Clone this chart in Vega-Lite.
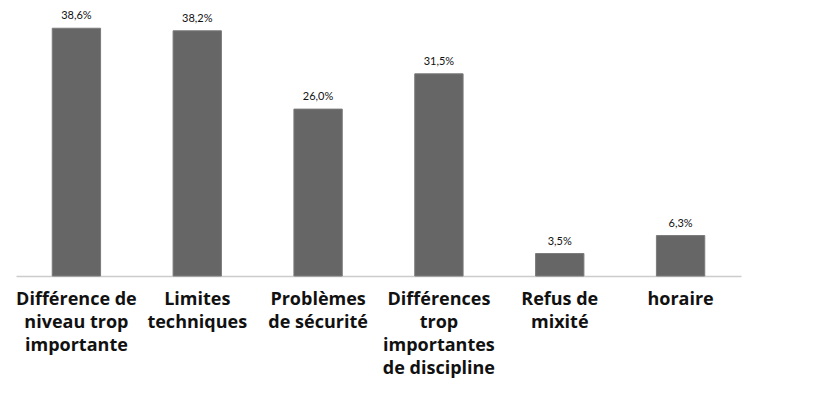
{
  "$schema": "https://vega.github.io/schema/vega-lite/v6.json",
  "autosize": "none",
  "width": 725,
  "height": 276,
  "padding": {"left": 16, "top": 0, "right": 76, "bottom": 118},
  "background": "white",
  "config": {
    "view": {"stroke": null},
    "locale": {"number": {"decimal": ",", "thousands": " ", "grouping": [3], "currency": ["", " €"]}}
  },
  "data": {
    "values": [
      {"raison": "Différence de niveau trop importante", "part": 0.386},
      {"raison": "Limites techniques", "part": 0.382},
      {"raison": "Problèmes de sécurité", "part": 0.260},
      {"raison": "Différences trop importantes de discipline", "part": 0.315},
      {"raison": "Refus de mixité", "part": 0.035},
      {"raison": "horaire", "part": 0.063}
    ]
  },
  "encoding": {
    "x": {
      "field": "raison",
      "type": "nominal",
      "sort": null,
      "scale": {"paddingInner": 0.6, "paddingOuter": 0.3},
      "axis": {
        "title": null,
        "labelAngle": 0,
        "ticks": false,
        "domainColor": "#cccccc",
        "domainWidth": 1.5,
        "labelFont": "Open Sans",
        "labelFontWeight": "bold",
        "labelFontSize": 18,
        "labelColor": "#111111",
        "labelPadding": 14,
        "labelLineHeight": 23,
        "labelLimit": 0,
        "labelExpr": "datum.value == 'Différence de niveau trop importante' ? ['Différence de', 'niveau trop', 'importante'] : datum.value == 'Limites techniques' ? ['Limites', 'techniques'] : datum.value == 'Problèmes de sécurité' ? ['Problèmes', 'de sécurité'] : datum.value == 'Différences trop importantes de discipline' ? ['Différences', 'trop', 'importantes', 'de discipline'] : datum.value == 'Refus de mixité' ? ['Refus de', 'mixité'] : datum.value"
      }
    },
    "y": {
      "field": "part",
      "type": "quantitative",
      "scale": {"domain": [0, 0.43], "nice": false},
      "axis": null
    }
  },
  "layer": [
    {
      "mark": {"type": "bar", "color": "#666666", "stroke": "#7a7a7a", "strokeWidth": 1}
    },
    {
      "mark": {"type": "text", "baseline": "bottom", "dy": -7, "font": "Lato", "fontSize": 11, "color": "#111111"},
      "encoding": {
        "text": {"field": "part", "type": "quantitative", "format": ".1%"}
      }
    }
  ]
}
